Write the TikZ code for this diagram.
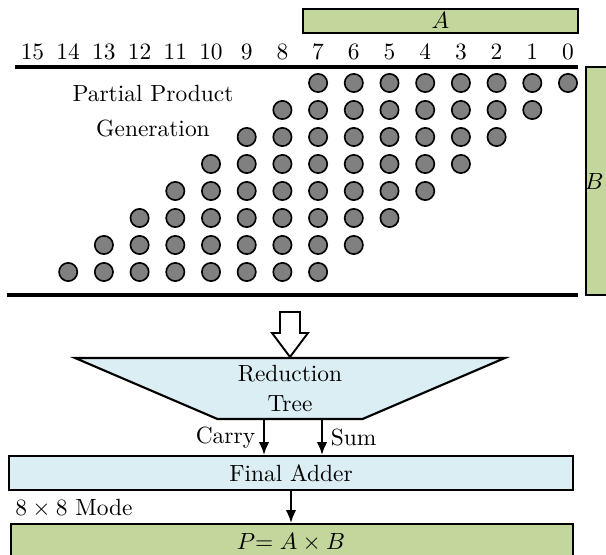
\documentclass[tikz,border=0pt]{standalone}
\usetikzlibrary{shapes.geometric, arrows.meta, positioning, fit, calc}
\definecolor{opgreen}{HTML}{C3D69B}
\definecolor{stageblue}{HTML}{DAEEF3}
\definecolor{dotgray}{HTML}{808080}
\tikzset{
    bitdot/.style={
        circle, draw=black, fill=dotgray, line width=0.7pt,
        minimum size=7.8pt, inner sep=0pt
    },
    bitnum/.style={
        inner sep=0pt
    },
    operand/.style={
        rectangle, draw=black, line width=0.9pt, fill=opgreen, inner sep=0pt
    },
    stage/.style={
        rectangle, draw=black, line width=0.9pt, fill=stageblue, inner sep=0pt
    },
    reduce/.style={
        trapezium, shape border rotate=180, trapezium angle=24.7,
        trapezium stretches=true, minimum width=183.5pt, minimum height=26pt,
        draw=black, line width=0.9pt, fill=stageblue, inner sep=0pt, align=center
    },
    rule/.style={
        line width=1.5pt
    },
    arrow/.style={
        -{Latex[length=5.5pt, width=4.5pt]}, line width=0.9pt, draw=black
    },
    hollow/.style={
        draw=black, line width=0.8pt, fill=white, line join=miter
    }
}

\begin{document}
\begin{tikzpicture}[x=0.015cm, y=-0.015cm]
    \useasboundingbox (0,0) rectangle (606,555);

    % operand bars
    \node[operand, fit={(303,9) (578,33)}]   (opA) {};
    \node at (opA.center) (labA) {$A$};
    \node[operand, fit={(586,67) (630,295)}] (opB) {};
    \node at (594,182) (labB) {$B$};

    % bit weights and rules
    \foreach \i in {0,...,15}
        \node[bitnum] (col\i) at ({568-35.7*\i},52) {\i};
    \draw[rule] (15,67) -- (578,67);
    \draw[rule] (7,295) -- (578,295);

    % partial product bits
    \foreach \r in {0,...,7}
        \foreach \c in {0,...,7} {
            \pgfmathtruncatemacro{\b}{\r+\c}
            \node[bitdot] (pp\r-\c) at ({568-35.7*\b},{83+27*\r}) {};
        }
    \node[align=center] (ppgen) at (153,111) {Partial Product\\[3pt] Generation};

    % reduction and final addition
    \node[reduce] (tree) at (290,388.5) {Reduction\\[1pt] Tree};
    \draw[hollow] (tree.north) -- ++(-18,-24) -- ++(8,0) -- ++(0,-21)
        -- ++(20,0) -- ++(0,21) -- ++(8,0) -- cycle;

    \node[stage, fit={(9,456) (573,490)}]   (adder) {};
    \node at (adder.center) (labadder) {Final Adder};
    \node[operand, fit={(11,524) (573,562)}] (prod) {};
    \node at (291,542) (labprod) {$P{=}\;A\times B$};

    \coordinate (carryout) at ($(tree.south)+(-26,0)$);
    \coordinate (sumout)   at ($(tree.south)+(32,0)$);
    \draw[arrow] (carryout) -- (carryout |- adder.north) node[midway, left]  {Carry};
    \draw[arrow] (sumout)   -- (sumout |- adder.north)   node[midway, right] {Sum};
    \draw[arrow] (adder.south) -- (adder.south |- prod.north);

    \node[anchor=west, inner sep=0pt] (mode) at (15,508) {$8\times 8$ Mode};

\end{tikzpicture}
\end{document}
